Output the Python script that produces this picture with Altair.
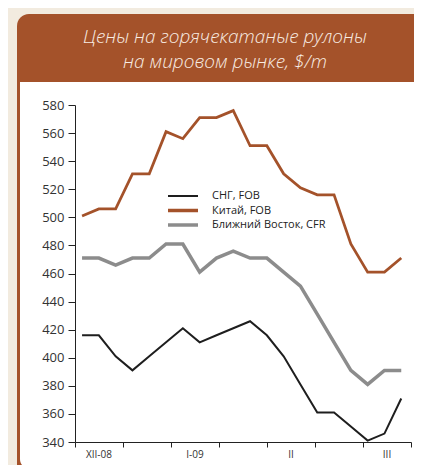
import altair as alt
import pandas as pd

# ---- data ----
series = ["СНГ, FOB", "Китай, FOB", "Ближний Восток, CFR"]
cis = [416, 416, 401, 391, 401, 411, 421, 411, 416, 421, 426, 416, 401, 381, 361, 361, 351, 341, 346, 371]
china = [501, 506, 506, 531, 531, 561, 556, 571, 571, 576, 551, 551, 531, 521, 516, 516, 481, 461, 461, 471]
mideast = [471, 471, 466, 471, 471, 481, 481, 461, 471, 476, 471, 471, 461, 451, 431, 411, 391, 381, 391, 391]
month_labels = ["XII-08", "I-09", "II", "III"]
month_interval = [0, 2, 4, 6]
y_ticks = list(range(340, 581, 20))
title_lines = ["Цены на горячекатаные рулоны", "на мировом рынке, $/т"]

BROWN = "#A4522A"
BEIGE = "#F2EBDF"
GRAY = "#8C8C8C"
BLACK = "#1E1E1E"
colors = [BLACK, BROWN, GRAY]
widths = [2, 3.5, 3.5]

rows = []
for name, vals in zip(series, [cis, china, mideast]):
    for i, v in enumerate(vals):
        rows.append({"series": name, "i": i, "value": v})
df = pd.DataFrame(rows)

X0 = -0.42
STEP = 20 / 7
tick_vals = [X0 + k * STEP for k in range(8)]
lab_df = pd.DataFrame({"label": month_labels,
                       "pos": [X0 + (k + 0.5) * STEP for k in month_interval]})

xscale = alt.Scale(domain=[X0, X0 + 7 * STEP], nice=False, zero=False)
xaxis = alt.Axis(values=tick_vals, labels=False, ticks=True, tickSize=5, grid=False,
                 title=None, domainColor="#222222", tickColor="#222222", zindex=1)
yaxis = alt.Axis(values=y_ticks, grid=False, title=None, tickSize=7, labelPadding=4,
                 labelFontSize=13, labelFont="Open Sans", labelColor="#333333",
                 domainColor="#222222", tickColor="#222222", zindex=1)

one = pd.DataFrame({"a": [0]})

panel = alt.Chart(one).mark_rect(color=BROWN, cornerRadius=12).encode(
    x=alt.value(-58), x2=alt.value(360), y=alt.value(-91), y2=alt.value(380))
inner = alt.Chart(one).mark_rect(color="white", cornerRadiusBottomLeft=10).encode(
    x=alt.value(-55), x2=alt.value(360), y=alt.value(-23), y2=alt.value(364))
title = alt.Chart(one).mark_text(
    text=title_lines, font="Open Sans", fontStyle="italic", fontWeight=300, fontSize=19,
    color="#F8ECE2", align="center", baseline="alphabetic", lineHeight=25).encode(
    x=alt.value(150), y=alt.value(-62))

lines = alt.Chart(df).mark_line(strokeJoin="miter").encode(
    x=alt.X("i:Q", scale=xscale, axis=xaxis),
    y=alt.Y("value:Q", scale=alt.Scale(domain=[340, 580], nice=False, zero=False), axis=yaxis),
    color=alt.Color("series:N", scale=alt.Scale(domain=series, range=colors), legend=None),
    strokeWidth=alt.StrokeWidth("series:N", scale=alt.Scale(domain=series, range=widths), legend=None),
    detail="series:N",
)

xlabels = alt.Chart(lab_df).mark_text(font="Open Sans", fontSize=10, color="#333333",
                                      baseline="middle").encode(
    x=alt.X("pos:Q", scale=xscale, axis=xaxis),
    y=alt.value(350),
    text="label:N",
)

legend_layers = []
for k, (name, col, w) in enumerate(zip(series, colors, widths)):
    yy = 91 + 14.5 * k
    legend_layers.append(alt.Chart(one).mark_rule(color=col, strokeWidth=w).encode(
        x=alt.value(93), x2=alt.value(123), y=alt.value(yy)))
    legend_layers.append(alt.Chart(one).mark_text(
        text=name, font="Open Sans", fontSize=11, color="#222222", align="left",
        baseline="middle").encode(x=alt.value(137), y=alt.value(yy)))

chart = alt.layer(panel, inner, title, lines, xlabels, *legend_layers).properties(
    width=336, height=337, autosize="none",
    padding={"left": 67, "top": 97, "right": 3, "bottom": 23},
).configure(background=BEIGE).configure_view(stroke=None)

chart.save("out.html", embed_options={"renderer": "svg", "actions": False})
